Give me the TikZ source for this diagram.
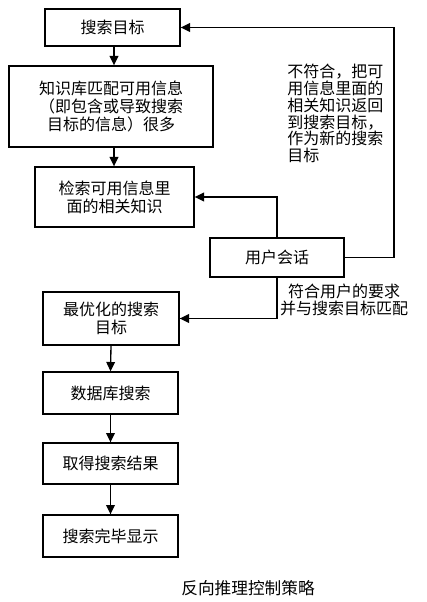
\documentclass[tikz,border=0pt]{standalone}
\usepackage{fontspec}
\setmainfont{Noto Sans CJK SC}
\usetikzlibrary{arrows.meta}
\tikzset{
  box/.style={draw, line width=1pt, inner sep=0pt, align=center, font=\fontsize{12}{13.5}\selectfont},
  arr/.style={line width=1pt, -{Triangle[length=7pt,width=6.5pt]}},
  lbl/.style={inner sep=0pt, font=\fontsize{12}{12.6}\selectfont}
}
\begin{document}
\begin{tikzpicture}[x=0.75pt,y=-0.75pt]
\useasboundingbox (0,0) rectangle (427,602);
\node[box, minimum width=135*0.75pt, minimum height=37*0.75pt] (b1) at (112.5,27.5) {搜索目标};
\node[box, minimum width=204*0.75pt, minimum height=81*0.75pt] (b2) at (111,106.5) {知识库匹配可用信息\\（即包含或导致搜索\\目标的信息）很多};
\node[box, minimum width=159*0.75pt, minimum height=60*0.75pt] (b3) at (114.5,197) {检索可用信息里\\面的相关知识};
\node[box, minimum width=134*0.75pt, minimum height=39*0.75pt] (u) at (277,257.5) {用户会话};
\node[box, minimum width=136*0.75pt, minimum height=53*0.75pt] (b4) at (111,318.5) {最优化的搜索\\目标};
\node[box, minimum width=135*0.75pt, minimum height=42*0.75pt] (b5) at (110.5,393) {数据库搜索};
\node[box, minimum width=135*0.75pt, minimum height=41*0.75pt] (b6) at (110.5,463.5) {取得搜索结果};
\node[box, minimum width=135*0.75pt, minimum height=42*0.75pt] (b7) at (110.5,536) {搜索完毕显示};
\node[lbl, anchor=north west, align=left] (t1) at (287,64) {不符合，把可\\用信息里面的\\相关知识返回\\到搜索目标，\\作为新的搜索\\目标};
\node[lbl, align=center] (t2) at (344,300) {符合用户的要求\\并与搜索目标匹配};
\node[inner sep=0pt, font=\fontsize{12.5}{14}\selectfont] (cap) at (248,588) {反向推理控制策略};
\coordinate (r) at (394,257.5);
\draw[arr] (b1.south -| 114,0) -- (114,0 |- b2.north);
\draw[arr] (b2.south -| 114,0) -- (114,0 |- b3.north);
\draw[arr] (b4.south) -- (b5.north);
\draw[arr] (b5.south) -- (b6.north);
\draw[arr] (b6.south) -- (b7.north);
\draw[arr] (u.east) -- (r) |- (b1.east);
\draw[arr] (u.north) |- (b3.east);
\draw[arr] (u.south) |- (b4.east);
\end{tikzpicture}
\end{document}
